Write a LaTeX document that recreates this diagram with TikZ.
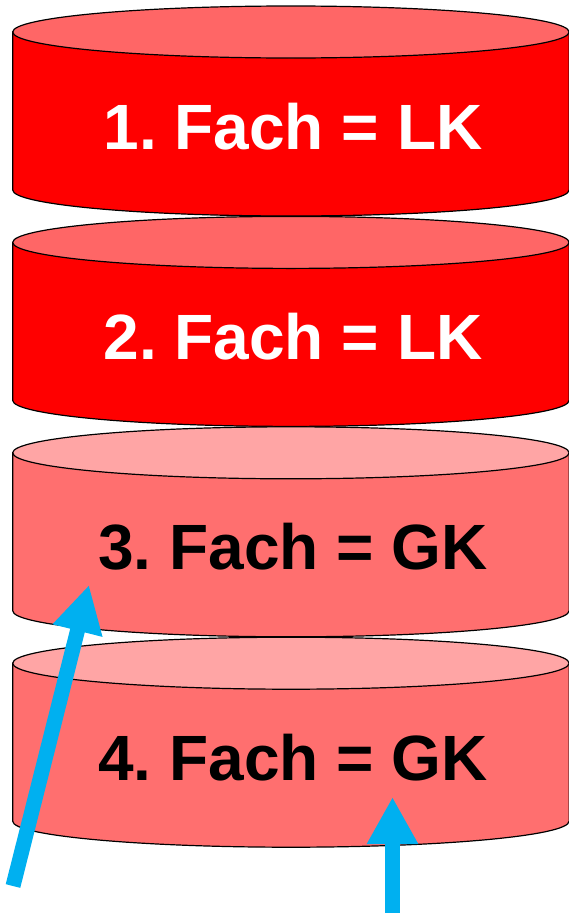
\documentclass[tikz,border=0pt]{standalone}
\usepackage{fontspec}
\setmainfont{Liberation Sans}
\usetikzlibrary{arrows.meta}
\definecolor{lkbody}{HTML}{FF0000}
\definecolor{lktop}{HTML}{FF6666}
\definecolor{gkbody}{HTML}{FF6F6F}
\definecolor{gktop}{HTML}{FFA5A5}
\definecolor{pfeilblau}{HTML}{00B0F0}
\tikzset{%
  >=latex, % option for nice arrows
  rand/.style={draw=black,line width=1.2pt},%
  fach/.style={inner sep=0pt,outer sep=0pt,anchor=base,
    font=\fontsize{64}{70}\selectfont\bfseries\frenchspacing},%
  pfeil/.style={draw=pfeilblau,line width=15pt,
    -{Triangle[width=48pt,length=47pt]}}%
}

\begin{document}
\begin{tikzpicture}[x=1pt,y=-1pt] % FAECHER

\def\L{12.7}
\def\Rx{278.2}
\def\Ry{26}
\def\H{158}
\pgfmathsetmacro\Cx{\L+\Rx}
\pgfmathsetmacro\R{\L+2*\Rx}

\useasboundingbox (0,0) rectangle (569,913);

\foreach \i/\deckel/\mantel/\schrift/\kurs in
  {1/lktop/lkbody/white/LK, 2/lktop/lkbody/white/LK,
   3/gktop/gkbody/black/GK, 4/gktop/gkbody/black/GK}
{
  \pgfmathsetmacro\yt{32+210.4*(\i-1)}
  \filldraw[rand,fill=\mantel] (\L,\yt) -- (\L,{\yt+\H})
    arc[start angle=180,end angle=0,x radius=\Rx,y radius=\Ry]
    -- (\R,\yt) -- cycle;
  \filldraw[rand,fill=\deckel] (\Cx,\yt) ellipse[x radius=\Rx,y radius=\Ry];
  \node[fach,text=\schrift] (f\i) at (293,{\yt+117}) {\i. Fach = \kurs};
}

\coordinate (p1) at (13,886);
\coordinate (p1tip) at (89,585);
\coordinate (p2) at (392.5,913);
\coordinate (p2tip) at (392.5,797);

\draw[pfeil] (p1) -- (p1tip);
\draw[pfeil] (p2) -- (p2tip);

\end{tikzpicture}
\end{document}
